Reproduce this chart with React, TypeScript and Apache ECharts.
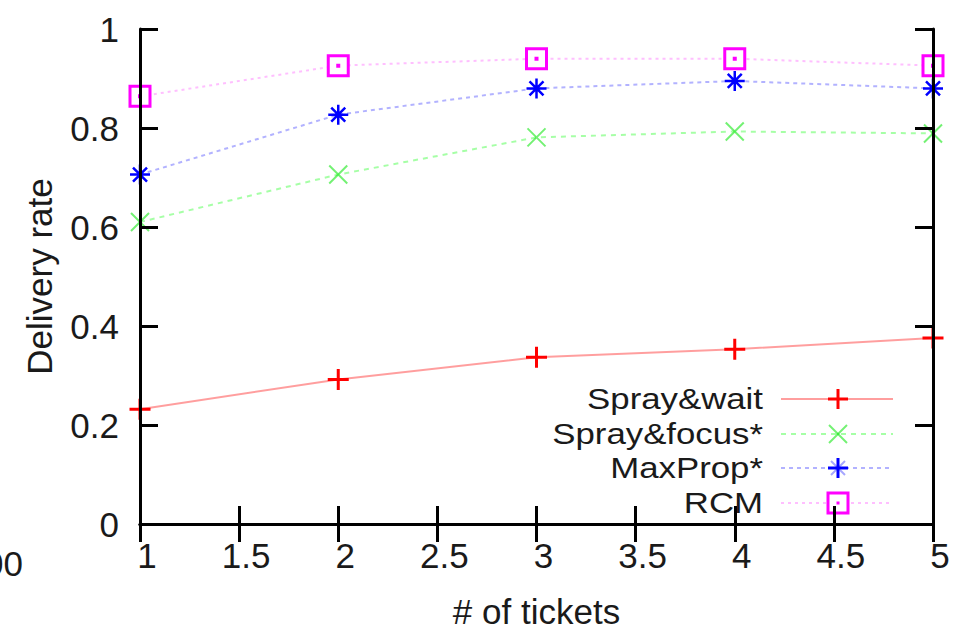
import React, { useEffect, useRef } from "react";
import * as echarts from "echarts";

const tickets = [1, 2, 3, 4, 5];
const sprayWait = [0.232, 0.292, 0.337, 0.353, 0.376];
const sprayFocus = [0.61, 0.706, 0.781, 0.793, 0.789];
const maxProp = [0.706, 0.827, 0.88, 0.895, 0.88];
const rcm = [0.864, 0.926, 0.94, 0.94, 0.926];
const seriesNames = ["Spray&wait", "Spray&focus*", "MaxProp*", "RCM"];

const FONT = "'Liberation Sans', Arial, sans-serif";
const TXT = "#1a1a1a";

const PLUS = "path://M0,-10 L0,10 M-10,0 L10,0";
const XMARK = "path://M-10,-10 L10,10 M-10,10 L10,-10";
const STAR = "path://M0,-10 L0,10 M-10,0 L10,0 M-7,-7 L7,7 M-7,7 L7,-7";
const SQUARE = "path://M-10,-10 L10,-10 L10,10 L-10,10 Z M-0.5,-0.5 L0.5,-0.5 L0.5,0.5 L-0.5,0.5 Z";

function pairs(vals: number[]) {
  return tickets.map((t, i) => [t, vals[i]]);
}

export default function App() {
  const ref = useRef<HTMLDivElement>(null);
  useEffect(() => {
    if (!ref.current) return;
    const chart = echarts.init(ref.current, null, { renderer: "svg" });

    const legendSpecs = [
      { color: "#ff0000", line: "rgba(255,0,0,0.38)", dash: null as number[] | null, marker: "plus" },
      { color: "rgba(0,230,0,0.55)", line: "rgba(0,255,0,0.35)", dash: [5, 5], marker: "x" },
      { color: "#0000ff", line: "rgba(0,0,255,0.3)", dash: [4, 4], marker: "star" },
      { color: "#ff00ff", line: "rgba(255,0,255,0.25)", dash: [3, 4], marker: "square" },
    ];
    const rowY = [399, 434, 468, 503];
    const mx = 838;
    const graphic: any[] = [];
    legendSpecs.forEach((s, i) => {
      const y = rowY[i];
      graphic.push({
        type: "text",
        x: 763,
        y,
        scaleX: 1.16,
        style: { text: seriesNames[i], fill: TXT, font: `30px ${FONT}`, align: "right", verticalAlign: "middle" },
      });
      graphic.push({
        type: "line",
        shape: { x1: 781, y1: y, x2: 893, y2: y },
        style: { stroke: s.line, lineWidth: 2, lineDash: s.dash || undefined },
      });
      const r = 10;
      if (s.marker === "plus" || s.marker === "star") {
        graphic.push({ type: "line", shape: { x1: mx - r, y1: y, x2: mx + r, y2: y }, style: { stroke: s.color, lineWidth: 3 } });
        graphic.push({ type: "line", shape: { x1: mx, y1: y - r, x2: mx, y2: y + r }, style: { stroke: s.color, lineWidth: 3 } });
      }
      if (s.marker === "x" || s.marker === "star") {
        const d = s.marker === "x" ? 9 : 7;
        const c = s.marker === "x" ? s.color : "rgba(0,0,255,0.35)";
        graphic.push({ type: "line", shape: { x1: mx - d, y1: y - d, x2: mx + d, y2: y + d }, style: { stroke: c, lineWidth: 2 } });
        graphic.push({ type: "line", shape: { x1: mx - d, y1: y + d, x2: mx + d, y2: y - d }, style: { stroke: c, lineWidth: 2 } });
      }
      if (s.marker === "square") {
        graphic.push({ type: "rect", shape: { x: mx - r, y: y - r, width: 2 * r, height: 2 * r }, style: { stroke: s.color, lineWidth: 3, fill: "#fff" } });
        graphic.push({ type: "rect", shape: { x: mx - 1.5, y: y - 1.5, width: 3, height: 3 }, style: { fill: s.color } });
      }
    });
    graphic.push({
      type: "text",
      x: 23,
      y: 563,
      style: { text: "00", fill: TXT, font: `35px ${FONT}`, align: "right", verticalAlign: "middle" },
    });

    const axisLine = { show: true, lineStyle: { color: "#000", width: 3 } };
    const axisTick = { show: true, inside: true, length: 18, lineStyle: { color: "#000", width: 3 } };

    chart.setOption({
      animation: false,
      backgroundColor: "#fff",
      textStyle: { fontFamily: FONT },
      grid: { left: 140, right: 36, top: 29, bottom: 102, containLabel: false },
      xAxis: [
        {
          type: "value",
          position: "bottom",
          min: 1,
          max: 5,
          interval: 0.5,
          z: 5,
          axisLine,
          axisTick,
          splitLine: { show: false },
          axisLabel: { color: TXT, fontSize: 35, fontFamily: FONT, margin: 14, padding: [0, 0, 0, 14] },
          name: "# of tickets",
          nameLocation: "middle",
          nameGap: 70,
          nameTextStyle: { color: TXT, fontSize: 35, fontFamily: FONT },
        },
        {
          type: "value",
          position: "top",
          min: 1,
          max: 5,
          interval: 0.5,
          z: 5,
          axisLine,
          axisTick,
          splitLine: { show: false },
          axisLabel: { show: false },
        },
      ],
      yAxis: [
        {
          type: "value",
          position: "left",
          min: 0,
          max: 1,
          interval: 0.2,
          z: 5,
          axisLine,
          axisTick,
          splitLine: { show: false },
          axisLabel: { color: TXT, fontSize: 35, fontFamily: FONT, margin: 21 },
          name: "Delivery rate",
          nameLocation: "middle",
          nameGap: 83,
          nameRotate: 90,
          nameTextStyle: { color: TXT, fontSize: 35, fontFamily: FONT },
        },
        {
          type: "value",
          position: "right",
          min: 0,
          max: 1,
          interval: 0.2,
          z: 5,
          axisLine,
          axisTick,
          splitLine: { show: false },
          axisLabel: { show: false },
        },
      ],
      series: [
        {
          name: seriesNames[0],
          type: "line",
          data: pairs(sprayWait),
          symbol: PLUS,
          symbolSize: 21,
          itemStyle: { color: "#ff0000", borderColor: "#ff0000", borderWidth: 3 },
          lineStyle: { color: "rgba(255,0,0,0.38)", width: 2 },
          clip: false,
        },
        {
          name: seriesNames[1],
          type: "line",
          data: pairs(sprayFocus),
          symbol: XMARK,
          symbolSize: 18,
          itemStyle: { color: "rgba(0,230,0,0.55)", borderColor: "rgba(0,230,0,0.55)", borderWidth: 2 },
          lineStyle: { color: "rgba(0,255,0,0.35)", width: 2, type: [5, 5] },
          clip: false,
        },
        {
          name: seriesNames[2],
          type: "line",
          data: pairs(maxProp),
          symbol: STAR,
          symbolSize: 20,
          itemStyle: { color: "#0000ff", borderColor: "#0000ff", borderWidth: 2.5 },
          lineStyle: { color: "rgba(0,0,255,0.3)", width: 2, type: [4, 4] },
          clip: false,
        },
        {
          name: seriesNames[3],
          type: "line",
          data: pairs(rcm),
          symbol: SQUARE,
          symbolSize: 20,
          itemStyle: { color: "#ffffff", borderColor: "#ff00ff", borderWidth: 3 },
          lineStyle: { color: "rgba(255,0,255,0.25)", width: 2, type: [3, 4] },
          clip: false,
        },
      ],
      graphic,
    });
    return () => chart.dispose();
  }, []);
  return <div ref={ref} style={{ width: 969, height: 634, position: "absolute", left: 0, top: 0 }} />;
}
